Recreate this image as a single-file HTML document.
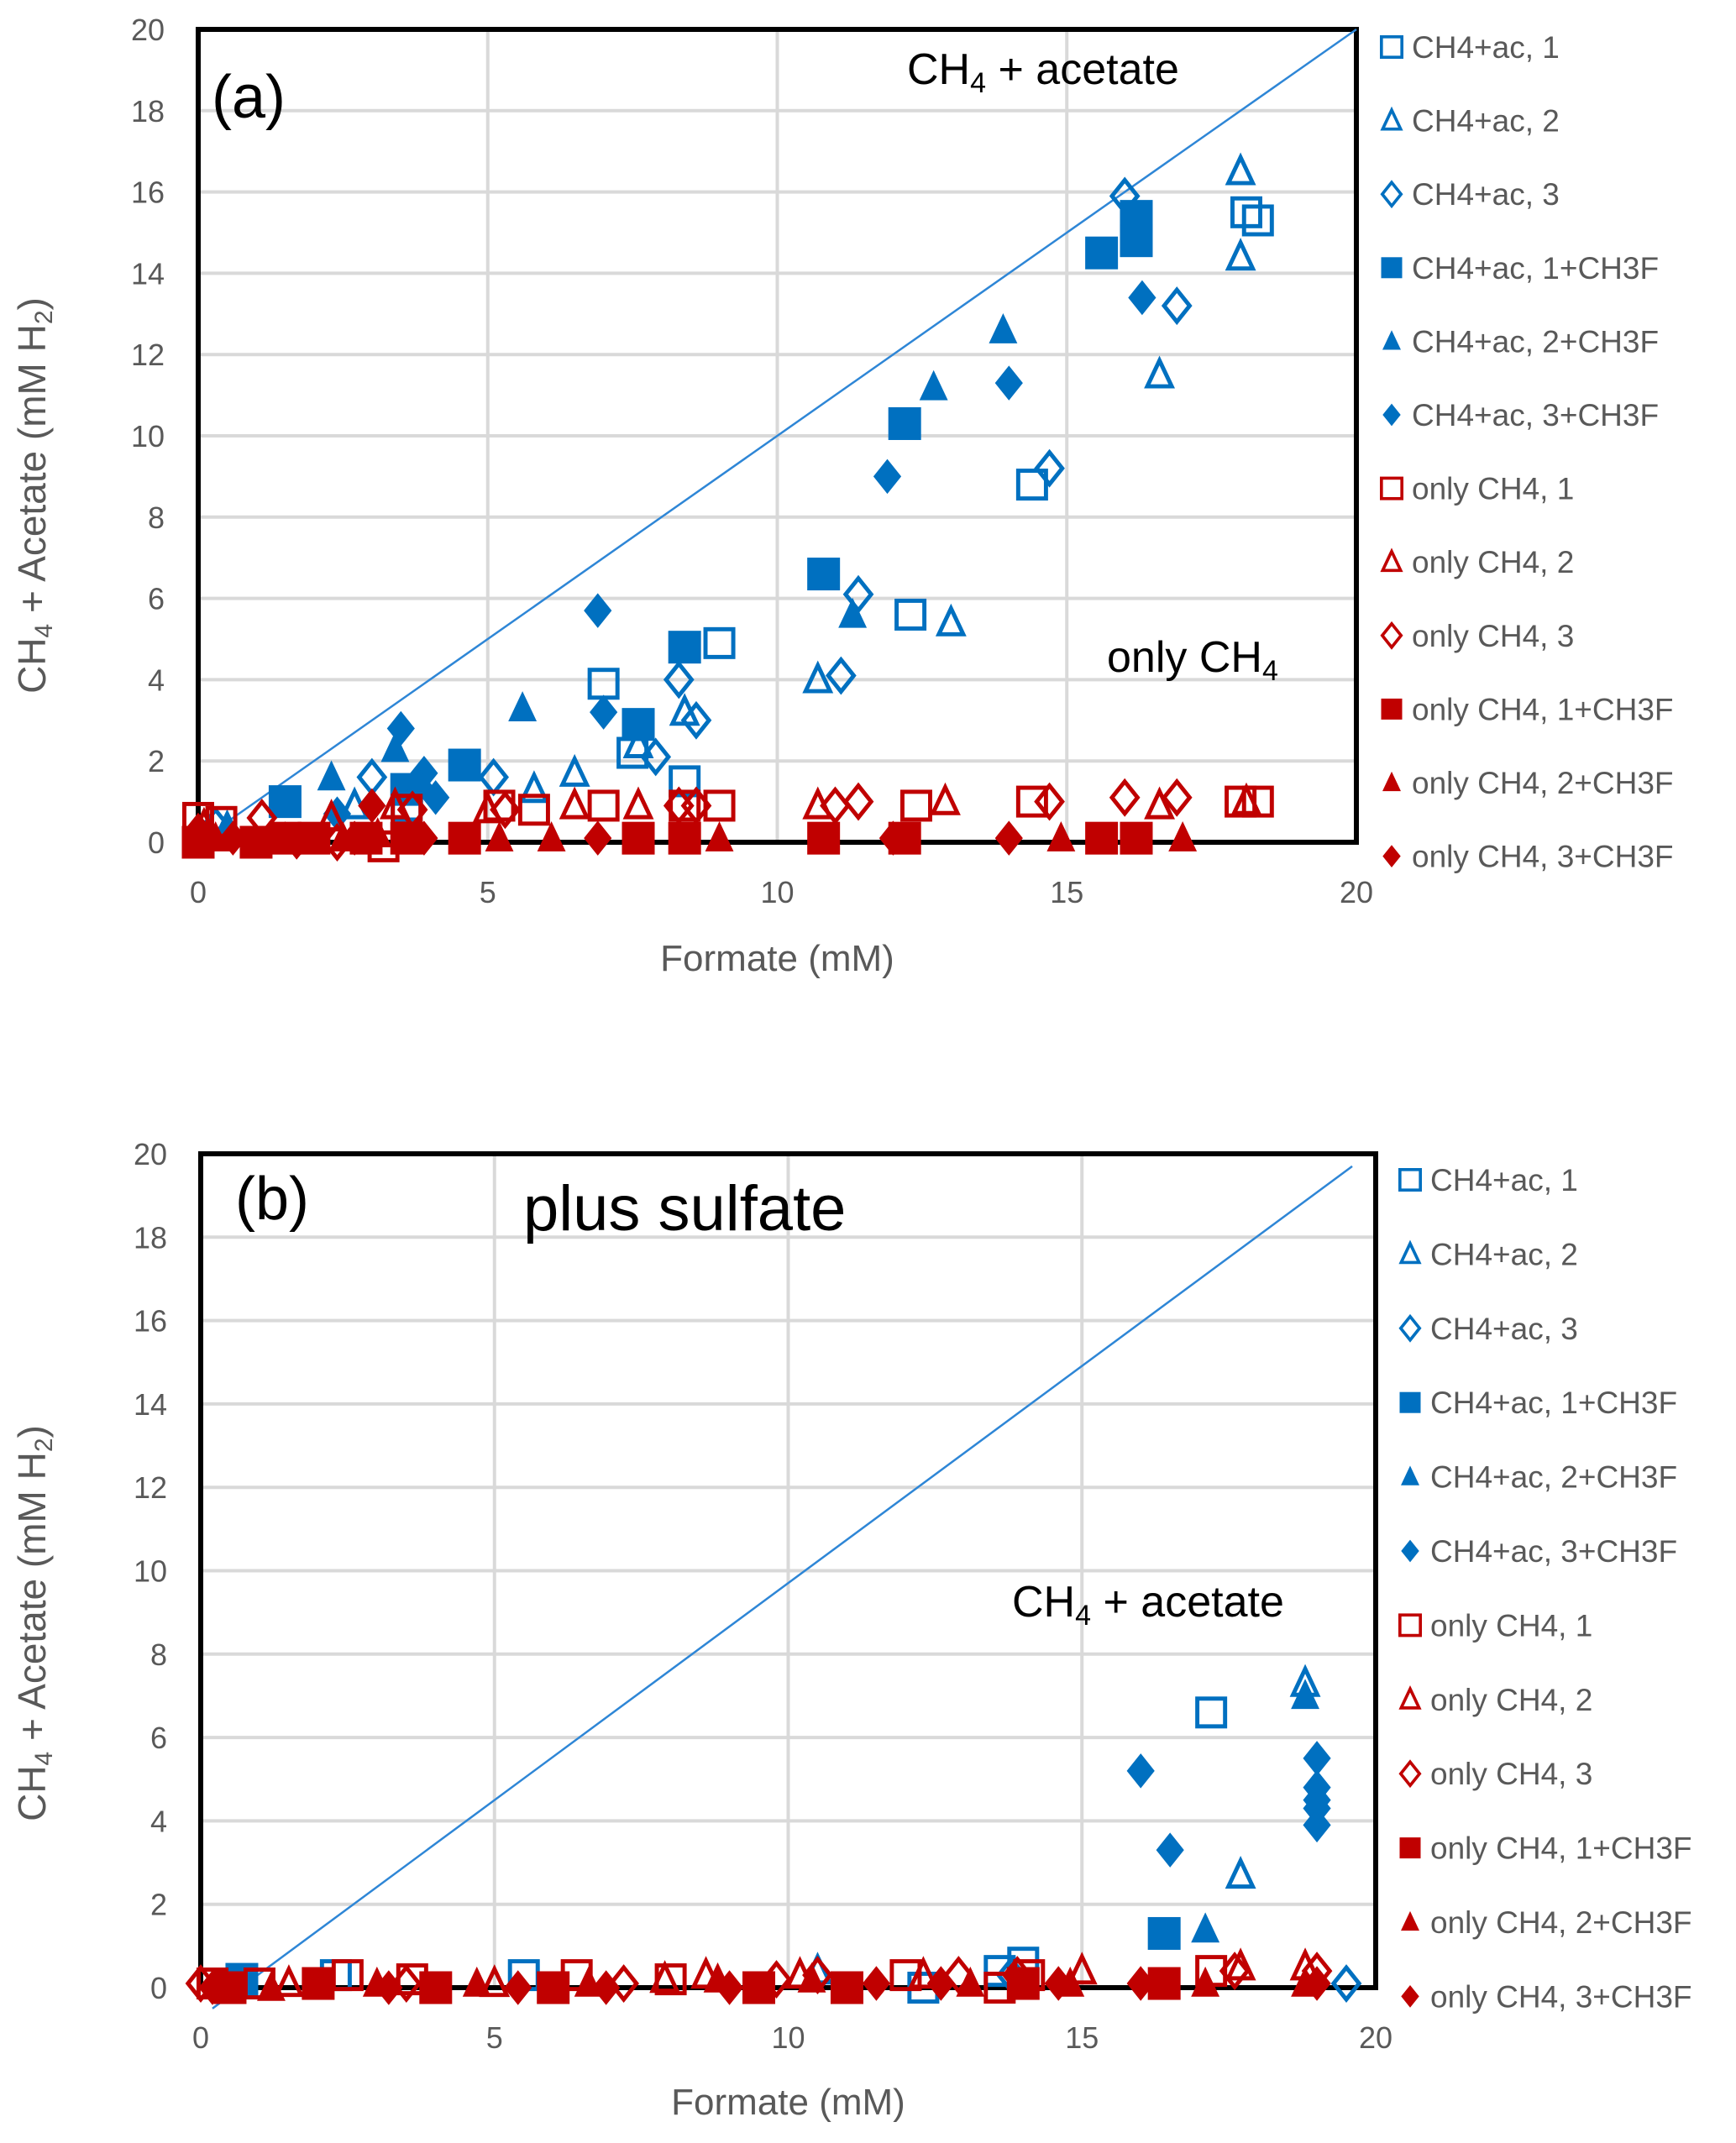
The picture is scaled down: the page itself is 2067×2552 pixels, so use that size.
<!DOCTYPE html>
<html><head><meta charset="utf-8"><style>
html,body{margin:0;padding:0;background:#fff;}
svg{display:block;}
text{font-family:"Liberation Sans",sans-serif;}
</style></head><body>
<svg id="c" width="2067" height="2552" viewBox="0 0 2067 2552" xmlns="http://www.w3.org/2000/svg"></svg>
<script>
const seriesNames=["CH4+ac, 1","CH4+ac, 2","CH4+ac, 3","CH4+ac, 1+CH3F","CH4+ac, 2+CH3F","CH4+ac, 3+CH3F","only CH4, 1","only CH4, 2","only CH4, 3","only CH4, 1+CH3F","only CH4, 2+CH3F","only CH4, 3+CH3F"];
const xTicks=[0,5,10,15,20];
const yTicks=[0,2,4,6,8,10,12,14,16,18,20];
// panel a data: [x,y]
const a_ac1=[[18.1,15.5],[18.3,15.3],[14.4,8.8],[7.0,3.9],[9.0,4.9],[12.3,5.6],[7.5,2.2],[8.4,1.5],[3.6,0.9]];
const a_ac2=[[18.0,16.5],[18.0,14.4],[16.6,11.5],[13.0,5.4],[10.7,4.0],[8.4,3.2],[7.6,2.4],[6.5,1.7],[5.8,1.3],[2.7,0.9]];
const a_ac3=[[16.0,15.9],[16.9,13.2],[14.7,9.2],[11.4,6.1],[11.1,4.1],[8.3,4.0],[8.6,3.0],[7.9,2.1],[5.1,1.6],[3.0,1.6],[0.3,0.4]];
const a_ac1f=[[16.2,15.4],[16.2,14.8],[15.6,14.5],[12.2,10.3],[10.8,6.6],[8.4,4.8],[7.6,2.9],[4.6,1.9],[3.6,1.3],[1.5,1.0]];
const a_ac2f=[[13.9,12.6],[12.7,11.2],[11.3,5.6],[5.6,3.3],[3.4,2.3],[2.3,1.6],[0.5,0.4]];
const a_ac3f=[[16.3,13.4],[14.0,11.3],[11.9,9.0],[6.9,5.7],[7.0,3.2],[3.5,2.8],[3.9,1.7],[4.1,1.1],[2.4,0.7],[3.8,1.4]];
const a_o1=[[18.3,1.0],[18.0,1.0],[14.4,1.0],[12.4,0.9],[9.0,0.9],[7.0,0.9],[5.2,0.9],[5.8,0.8],[3.6,0.8],[0.0,0.6],[0.4,0.5],[3.2,-0.1],[8.4,0.9]];
const a_o2=[[18.1,1.0],[16.6,0.9],[12.9,1.0],[10.7,0.9],[7.6,0.9],[6.5,0.9],[5.0,0.8],[3.4,0.9],[2.3,0.6],[0.1,0.4]];
const a_o3=[[16.9,1.1],[16.0,1.1],[14.7,1.0],[11.4,1.0],[11.0,0.9],[8.6,0.9],[8.3,0.9],[5.3,0.8],[3.7,0.8],[1.1,0.6],[2.4,0.0]];
const a_o1f=[[16.2,0.1],[15.6,0.1],[12.2,0.1],[10.8,0.1],[8.4,0.1],[7.6,0.1],[4.6,0.1],[3.6,0.1],[1.5,0.1],[0.0,0.0],[1.0,0.0],[2.0,0.1],[2.9,0.1]];
const a_o2f=[[17.0,0.1],[14.9,0.1],[9.0,0.1],[6.1,0.1],[5.2,0.1],[3.1,0.2],[2.5,0.1],[1.5,0.1],[0.3,0.1]];
const a_o3f=[[14.0,0.1],[12.0,0.1],[6.9,0.1],[3.0,0.9],[3.9,0.1],[2.7,0.1],[1.7,0.0],[0.6,0.1],[0.0,0.3]];
// panel b data
const b_ac1=[[17.2,6.6],[12.3,0.0],[14.0,0.6],[13.6,0.4],[2.3,0.3],[5.5,0.3],[0.7,0.2]];
const b_ac2=[[18.8,7.3],[17.7,2.7],[10.5,0.4]];
const b_ac3=[[19.5,0.1],[13.8,0.3]];
const b_ac1f=[[16.4,1.3],[0.7,0.2]];
const b_ac2f=[[18.8,7.0],[17.1,1.4]];
const b_ac3f=[[16.0,5.2],[16.5,3.3],[19.0,5.5],[19.0,4.8],[19.0,4.5],[19.0,4.3],[19.0,3.9]];
const b_o1=[[17.2,0.4],[14.1,0.3],[13.6,0.0],[12.0,0.3],[8.0,0.2],[6.4,0.3],[3.6,0.2],[2.5,0.3],[1.0,0.1],[0.2,0.1]];
const b_o2=[[18.8,0.5],[17.7,0.5],[15.0,0.4],[12.3,0.3],[10.2,0.3],[8.6,0.3],[7.9,0.2],[5.0,0.1],[1.5,0.1]];
const b_o3=[[19.0,0.4],[17.6,0.4],[13.9,0.3],[12.9,0.3],[10.5,0.3],[9.8,0.2],[7.2,0.1],[3.5,0.1],[0.0,0.1]];
const b_o1f=[[16.4,0.1],[14.0,0.1],[11.0,0.0],[9.5,0.0],[6.0,0.0],[4.0,0.0],[2.0,0.1],[0.5,0.0]];
const b_o2f=[[18.8,0.1],[17.1,0.1],[14.8,0.1],[13.1,0.1],[10.4,0.2],[8.8,0.2],[6.6,0.1],[4.7,0.1],[3.0,0.1],[1.2,0.0]];
const b_o3f=[[19.0,0.1],[16.0,0.1],[14.6,0.1],[12.6,0.1],[11.5,0.1],[9.0,0.0],[6.9,0.0],[5.4,0.0],[3.2,0.0],[0.2,0.0]];
const diagA=[[0.1,0.1],[20,20]];
const diagB=[[0.2,-0.5],[19.6,19.7]];

const NS="http://www.w3.org/2000/svg";
const svg=document.getElementById('c');
function mk(tag,attrs,parent){const e=document.createElementNS(NS,tag);for(const k in attrs)e.setAttribute(k,attrs[k]);(parent||svg).appendChild(e);return e;}
const BLUE="#0070C0",RED="#C00000",GREY="#595959";
const shapes=["sq","tri","dia","sq","tri","dia","sq","tri","dia","sq","tri","dia"];
const fills=[0,0,0,1,1,1,0,0,0,1,1,1];
const cols=[BLUE,BLUE,BLUE,BLUE,BLUE,BLUE,RED,RED,RED,RED,RED,RED];

function marker(g,shape,filled,col,cx,cy,s){
  const h=s/2;let e;
  const st=filled?{fill:col,stroke:col,'stroke-width':1}:{fill:'none',stroke:col,'stroke-width':s*0.13};
  if(shape==="sq"){const q=filled?h:h*0.87;e=mk('rect',Object.assign({x:cx-q,y:cy-q,width:2*q,height:2*q},st),g);}
  else if(shape==="tri"){const q=filled?h:h*0.9;e=mk('polygon',Object.assign({points:`${cx},${cy-q} ${cx+q*0.85},${cy+q*0.8} ${cx-q*0.85},${cy+q*0.8}`},st),g);}
  else {const q=filled?h*1.05:h;e=mk('polygon',Object.assign({points:`${cx},${cy-q} ${cx+q*0.8},${cy} ${cx},${cy+q} ${cx-q*0.8},${cy}`},st),g);}
  return e;
}

function panel(P){
  const g=mk('g',{});
  
  
  const X=v=>P.x0+(P.x1-P.x0)*v/20;
  const Y=v=>P.y0-(P.y0-P.y1)*v/20;
  yTicks.forEach(t=>{
    if(t>0&&t<20){const l=mk('line',{x1:X(0),x2:X(20),y1:Y(t),y2:Y(t),stroke:'#d9d9d9','stroke-width':4},g);
    }
    const tx=mk('text',{x:P.x0-40,y:Y(t)+13,'text-anchor':'end','font-size':36,fill:GREY},g);
    tx.textContent=t;
  });
  xTicks.forEach(t=>{
    if(t>0&&t<20){const l=mk('line',{x1:X(t),x2:X(t),y1:Y(0),y2:Y(20),stroke:'#d9d9d9','stroke-width':4},g);
    }
    const tx=mk('text',{x:X(t),y:P.y0+72,'text-anchor':'middle','font-size':36,fill:GREY},g);
    tx.textContent=t;
  });
  const fr=mk('rect',{x:X(0),y:Y(20),width:X(20)-X(0),height:Y(0)-Y(20),fill:'none',stroke:'#000','stroke-width':6},g);
  
  const d=P.diag;
  const dl=mk('line',{x1:X(d[0][0]),y1:Y(d[0][1]),x2:X(d[1][0]),y2:Y(d[1][1]),stroke:'#2E86D6','stroke-width':2.5},g);
  
  P.series.forEach((s,i)=>{
    s.forEach(p=>{
      const m=marker(g,shapes[i],fills[i],cols[i],X(p[0]),Y(p[1]),38);
      
      
    });
  });
  seriesNames.forEach((n,i)=>{
    const cy=P.ly0+i*P.lstep;
    const m=marker(g,shapes[i],fills[i],cols[i],P.lx,cy,fills[i]?24:28);
    
    const t=mk('text',{x:P.lx+24,y:cy+13,'font-size':37,fill:GREY},g);
    t.textContent=n;
  });
  const xt=mk('text',{x:(P.x0+P.x1)/2,y:P.xty,'text-anchor':'middle','font-size':44,fill:GREY},g);
  xt.textContent="Formate (mM)";
  const yt=mk('text',{transform:`translate(54,${P.ytc}) rotate(-90)`,'text-anchor':'middle','font-size':46,fill:GREY},g);
  yt.innerHTML='CH<tspan font-size="30" dy="8">4</tspan><tspan dy="-8"> + Acetate (mM H</tspan><tspan font-size="30" dy="8">2</tspan><tspan dy="-8">)</tspan>';
  
  P.notes.forEach(n=>{
    const t=mk('text',{x:n.x,y:n.y,'font-size':n.fs,fill:'#000'},g);
    t.innerHTML=n.html;
  });
}
panel({name:'panel-a',x0:236,x1:1615,y0:1003,y1:35,diag:diagA,
  series:[a_ac1,a_ac2,a_ac3,a_ac1f,a_ac2f,a_ac3f,a_o1,a_o2,a_o3,a_o1f,a_o2f,a_o3f],
  lx:1657,ly0:56,lstep:87.6,xty:1156,ytc:590,
  notes:[{x:252,y:140,fs:72,html:'(a)',name:'panel-label-a'},
   {x:1080,y:100,fs:52,html:'CH<tspan font-size="34" dy="10">4</tspan><tspan dy="-10"> + acetate</tspan>',name:'annotation-ch4-acetate'},
   {x:1318,y:800,fs:52,html:'only CH<tspan font-size="34" dy="10">4</tspan>',name:'annotation-only-ch4'}]});
panel({name:'panel-b',x0:239,x1:1638,y0:2367,y1:1374,diag:diagB,
  series:[b_ac1,b_ac2,b_ac3,b_ac1f,b_ac2f,b_ac3f,b_o1,b_o2,b_o3,b_o1f,b_o2f,b_o3f],
  lx:1679,ly0:1405,lstep:88.4,xty:2518,ytc:1933,
  notes:[{x:280,y:1452,fs:72,html:'(b)',name:'panel-label-b'},
   {x:623,y:1465,fs:76,html:'plus sulfate',name:'annotation-plus-sulfate'},
   {x:1205,y:1925,fs:52,html:'CH<tspan font-size="34" dy="10">4</tspan><tspan dy="-10"> + acetate</tspan>',name:'annotation-ch4-acetate-b'}]});
</script>
</body></html>
